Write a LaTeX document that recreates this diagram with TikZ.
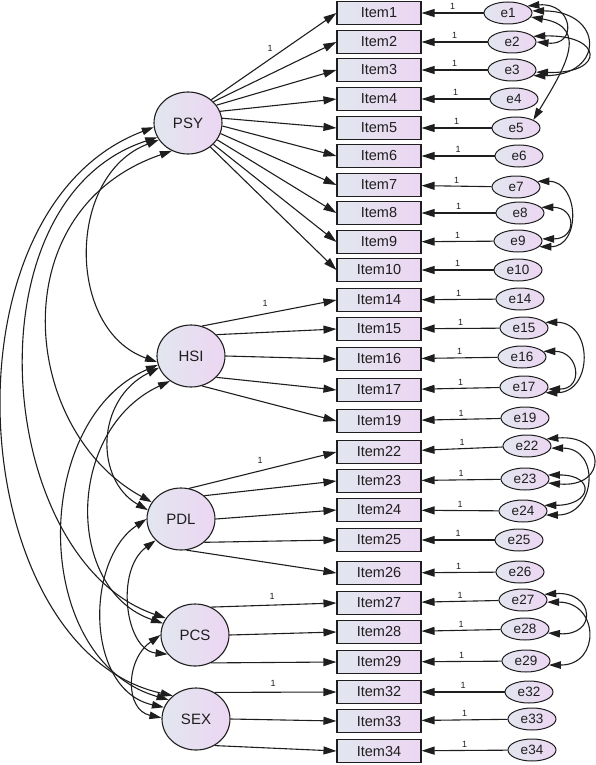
\documentclass[tikz,border=0pt]{standalone}
\usepackage{fontspec}
\setmainfont{Liberation Sans}
\usetikzlibrary{arrows.meta,shapes.geometric}
\definecolor{cA}{RGB}{226,230,239}
\definecolor{cB}{RGB}{236,214,242}
\definecolor{ln}{RGB}{30,30,30}
\tikzset{
 itembox/.style={draw=ln, line width=1.1pt, left color=cA, right color=cB, minimum width=84pt, minimum height=23pt, inner sep=0pt, text=ln, font=\fontsize{14.5}{16}\selectfont},
 errnode/.style={ellipse, draw=ln, line width=1pt, left color=cA, right color=cB, minimum width=48pt, minimum height=22pt, inner sep=0pt, text=ln, font=\fontsize{13.5}{15}\selectfont},
 latnode/.style={ellipse, draw=ln, line width=1.1pt, left color=cA, right color=cB, minimum width=68pt, minimum height=62pt, inner sep=0pt, text=ln, font=\fontsize{15}{17}\selectfont},
 arr/.style={-{Triangle[length=13pt,width=8pt]}, line width=1.1pt, draw=ln},
 cov/.style={{Triangle[length=12pt,width=7.5pt]}-{Triangle[length=12pt,width=7.5pt]}, line width=1.1pt, draw=ln},
 one/.style={font=\fontsize{9}{10}\selectfont, inner sep=1pt, text=ln},
}
\begin{document}
\begin{tikzpicture}[x=1pt,y=-1pt]
\useasboundingbox (0,0) rectangle (596,765);
% latent variables
\node[latnode] (PSY) at (188,123) {PSY};
\node[latnode] (HSI) at (191,356) {HSI};
\node[latnode] (PDL) at (181,519) {PDL};
\node[latnode] (PCS) at (195,635) {PCS};
\node[latnode] (SEX) at (196,719) {SEX};
% items
\foreach \n/\y in {1/13,2/42,3/70,4/99,5/128,6/156,7/185,8/213,9/242,10/270,14/300,15/329,16/359,17/390,19/421,22/452,23/481,24/510,25/540,26/573,27/603,28/632,29/662,32/692,33/721,34/751}
  \node[itembox] (I\n) at (379,\y) {Item\n};
% errors
\foreach \n/\x/\y in {1/508/13,2/512/42,3/512/70,4/514/99,5/516/128,6/519/156,7/516/187,8/520/213,9/518/241,10/518/270,14/520/299,15/524/328,16/522/357,17/524/387,19/525/418,22/527/446,23/525/479,24/523/511,25/519/540,26/520/572,27/523/600,28/525/629,29/526/661,32/529/692,33/532/719,34/532/750}
  \node[errnode] (e\n) at (\x,\y) {e\n};
% error paths
\foreach \n in {1,2,3,4,5,6,7,8,9,10,14,15,16,17,19,22,23,24,25,26,27,28,29,32,33,34}
  \draw[arr] (e\n) -- node[one, above=1.5pt] {1} (I\n);
% loadings
\foreach \n/\a in {1/45,2/40,3/32,4/20,5/8,6/-5,7/-18,8/-30,9/-40,10/-47} \draw[arr] (PSY.\a) -- (I\n.west);
\foreach \n/\a in {14/70,15/40,16/0,17/-40,19/-70} \draw[arr] (HSI.\a) -- (I\n.west);
\foreach \n/\a in {22/75,23/45,24/0,25/-45,26/-80} \draw[arr] (PDL.\a) -- (I\n.west);
\foreach \n/\a in {27/60,28/0,29/-60} \draw[arr] (PCS.\a) -- (I\n.west);
\foreach \n/\a in {32/55,33/0,34/-55} \draw[arr] (SEX.\a) -- (I\n.west);
\node[one] (l1) at (270,48) {1};
\node[one] (l14) at (265,303) {1};
\node[one] (l22) at (260,460) {1};
\node[one] (l27) at (272,596) {1};
\node[one] (l32) at (273,683) {1};
% error covariances
\draw[cov] (e1.20) .. controls +(45,-4) and +(42,4) .. (e2.0);
\draw[cov] (e1.5) .. controls +(72,0) and +(72,0) .. (e3.-15);
\draw[cov] (e2.15) .. controls +(70,-2) and +(70,2) .. (e3.-5);
\draw[cov] (e1.-10) .. controls +(60,10) and +(30,-50) .. (e5.25);
\draw[cov] (e7.15) .. controls +(42,0) and +(42,0) .. (e9.-15);
\draw[cov] (e8.15) .. controls +(35,0) and +(35,0) .. (e9.5);
\draw[cov] (e15.15) .. controls +(48,0) and +(48,0) .. (e17.-15);
\draw[cov] (e16.15) .. controls +(36,0) and +(36,0) .. (e17.-5);
\draw[cov] (e22.20) .. controls +(60,-5) and +(60,5) .. (e23.-10);
\draw[cov] (e22.-5) .. controls +(50,0) and +(50,0) .. (e24.-10);
\draw[cov] (e23.10) .. controls +(48,0) and +(48,0) .. (e24.15);
\draw[cov] (e27.15) .. controls +(50,-3) and +(50,3) .. (e28.-10);
\draw[cov] (e27.-5) .. controls +(52,0) and +(52,0) .. (e29.-10);
% latent covariances
\draw[cov] (PSY.187) .. controls (-65,210) and (-35,650) .. (SEX.135);
\draw[cov] (PSY.205) .. controls (-35,200) and (-5,560) .. (PCS.150);
\draw[cov] (PSY.240) .. controls (0,210) and (20,430) .. (PDL.150);
\draw[cov] (PSY.210) .. controls (66,175) and (66,330) .. (HSI.190);
\draw[cov] (HSI.200) .. controls (95,400) and (95,480) .. (PDL.165);
\draw[cov] (HSI.230) .. controls (65,430) and (65,590) .. (PCS.160);
\draw[cov] (HSI.195) .. controls (30,420) and (30,660) .. (SEX.145);
\draw[cov] (PDL.220) .. controls (115,570) and (125,650) .. (PCS.215);
\draw[cov] (PDL.180) .. controls (85,560) and (85,690) .. (SEX.160);
\draw[cov] (PCS.180) .. controls (125,660) and (125,710) .. (SEX.178);
\end{tikzpicture}
\end{document}
